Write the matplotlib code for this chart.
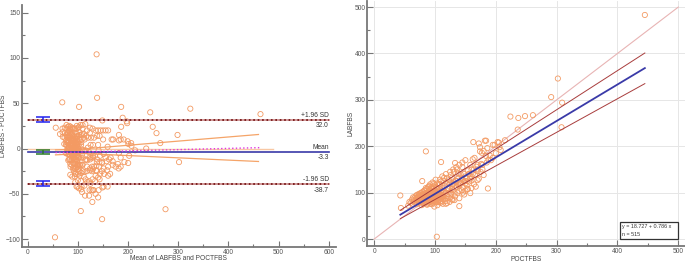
"""Bland-Altman plot and regression of LABFBS against POCTFBS."""

import matplotlib

matplotlib.use("Agg")
import matplotlib.pyplot as plt
import numpy as np
from matplotlib.patches import Rectangle
from matplotlib.ticker import MultipleLocator

plt.rcParams["font.family"] = ["Liberation Sans", "DejaVu Sans"]

poct_fbs = [
    445, 302, 291, 309, 308, 261, 248, 237, 224, 236,
    215, 205, 198, 184, 163, 172, 174, 182, 195, 203,
    85, 187, 103, 43, 44, 140, 158, 110, 79, 180,
    192, 174, 188, 206, 208, 177, 184, 170, 153, 167,
    133,
    56, 58, 60, 62, 63, 64, 65, 66, 67, 68,
    69, 70, 70, 71, 72, 73, 73, 74, 75, 75,
    76, 76, 77, 78, 78, 79, 80, 80, 81, 81,
    82, 82, 83, 83, 84, 84, 85, 85, 86, 86,
    87, 87, 88, 88, 89, 89, 90, 90, 90,
    91, 91, 92, 92, 93, 93, 94, 94, 95, 95,
    96, 96, 97, 97, 98, 98, 99, 99, 100, 100,
    101, 101, 102, 102, 103, 103, 104, 104, 105, 105,
    106, 106, 107, 108, 108, 109, 110, 110, 111, 112,
    113, 113, 114, 115, 115, 116, 117, 118, 119, 120,
    120, 121, 122, 123, 124, 125,
    126, 127, 128, 129, 130, 131, 132, 133, 135, 136,
    137, 138, 140, 141, 142, 144, 145, 146, 148, 150,
    152, 154, 156, 158, 160, 162,
    85, 88, 92, 95, 97, 93, 89, 86, 91, 94,
    96, 99, 84, 82, 87, 90, 93, 95, 98, 101,
    78, 80, 83, 77, 79,
    70, 72, 74, 76, 78, 80, 82, 84, 86, 88,
    90, 92, 94, 96, 98, 100, 102, 104, 106, 108,
    110, 112, 114, 116, 118, 100, 97, 95, 93, 91,
    89, 87, 85, 83, 81, 79, 77, 75, 73, 71,
    105, 107, 109, 111, 113, 103, 101, 99, 97, 95,
    92, 94, 96, 98, 100, 102, 104, 106, 108, 110,
    122, 124, 126, 128, 130, 132, 134, 136, 138, 140,
    142, 144, 146, 148, 150, 152, 154, 156, 160, 164,
    166, 168, 170, 172, 176, 178, 164, 158, 150, 146,
    118, 124, 128, 132, 120, 114, 108, 104, 98, 90,
    130, 135, 140, 145, 150, 155, 160, 165, 170, 175,
    180, 185, 190, 195, 200, 140, 150, 160, 170, 178,
    125, 118, 112, 135, 145, 128, 138, 148, 162, 186,
]
lab_fbs = [
    483, 346, 306, 294, 241, 267, 265, 261, 264, 236,
    213, 208, 203, 212, 209, 206, 198, 212, 203, 209,
    189, 109, 5, 94, 67, 71, 99, 166, 125, 138,
    170, 189, 171, 198, 192, 186, 179, 127, 107, 113,
    164,
    72, 80, 78, 85, 76, 90, 82, 88, 79, 92,
    84, 95, 75, 88, 81, 97, 86, 78, 92, 84,
    99, 88, 80, 94, 73, 86, 102, 90, 82, 96,
    76, 88, 105, 92, 84, 98, 79, 110, 91, 86,
    100, 74, 95, 83, 112, 90, 78, 98, 88,
    104, 84, 93, 118, 80, 99, 89, 108, 75, 95,
    122, 86, 101, 92, 82, 113, 96, 70, 105, 88,
    93, 128, 79, 99, 110, 86, 95, 73, 102, 91,
    118, 84, 97, 107, 80, 92, 124, 100, 88, 110,
    95, 76, 104, 132, 90, 114, 82, 100, 120, 93,
    78, 108, 97, 127, 88, 112,
    138, 96, 118, 84, 105, 145, 122, 92, 113, 150,
    100, 130, 88, 118, 140, 105, 155, 127, 96, 135,
    116, 148, 124, 160, 110, 140,
    95, 88, 97, 90, 97, 104, 100, 80, 91, 96,
    93, 100, 90, 83, 92, 94, 87, 102, 94, 100,
    84, 80, 87, 90, 78,
    88, 92, 95, 82, 100, 96, 104, 80, 108, 76,
    106, 84, 112, 78, 108, 84, 112, 82, 96, 90,
    82, 94, 86, 98, 88, 96, 85, 110, 76, 98,
    84, 96, 88, 94, 90, 92, 86, 90, 80, 84,
    80, 86, 78, 104, 92, 96, 80, 90, 104, 86,
    106, 82, 100, 86, 116, 90, 108, 88, 118, 90,
    110, 120, 100, 132, 118, 98, 126, 112, 142, 104,
    122, 132, 112, 140, 120, 132, 108, 140, 126, 150,
    138, 156, 146, 130, 162, 150, 118, 130, 104, 100,
    76, 80, 86, 84, 132, 126, 128, 120, 120, 114,
    150, 125, 160, 130, 170, 140, 150, 175, 160, 145,
    190, 165, 180, 175, 185, 115, 125, 135, 150, 160,
    145, 140, 135, 155, 165, 108, 118, 124, 172, 196,
]

# Bland-Altman summary as printed on the chart
mean_diff = -3.3
upper_loa = 32.0
lower_loa = -38.7
ci_mean = [-5.5, -1.1]
ci_upper = [29.7, 34.8]
ci_lower = [-41.4, -35.9]

# regression of the differences and its confidence band
diff_reg_x = [55, 464]
diff_reg_y = [-4.5, 1.0]
diff_band_x = [55, 110, 460]
diff_band_hi = [-1.5, -0.5, 15.5]
diff_band_lo = [-7.0, -5.5, -14.3]

# fitted line on the right panel
intercept = 18.727
slope = 0.786
n_obs = 515
fit_x = [43, 445]
fit_band_hi = [62, 401]
fit_band_lo = [44, 335]

poct = np.array(poct_fbs, dtype=float)
lab = np.array(lab_fbs, dtype=float)
avg = (lab + poct) / 2
diff = lab - poct

orange = "#f39a63"
axis_grey = "#777777"
tick_kw = dict(direction="in", labelsize=4.8, labelcolor="#555555",
               color=axis_grey, width=0.8, pad=1.2)
label_kw = dict(fontsize=4.8, color="#444444")

fig = plt.figure(figsize=(6.85, 2.62), dpi=100)
ax1 = fig.add_axes([0.032, 0.057, 0.458, 0.924])
ax2 = fig.add_axes([0.536, 0.061, 0.464, 0.935])

for ax in (ax1, ax2):
    for side in ("top", "right"):
        ax.spines[side].set_visible(False)
    for side in ("left", "bottom"):
        ax.spines[side].set_color(axis_grey)
        ax.spines[side].set_linewidth(1.3)
    ax.tick_params(which="major", length=4, **tick_kw)
    ax.tick_params(which="minor", length=2, **tick_kw)

# --- left: Bland-Altman ---
ax1.scatter(avg, diff, s=14, facecolors="none", edgecolors=orange,
            linewidths=0.6, zorder=3)
x_span = [0, 600]
ax1.plot(x_span, [mean_diff] * 2, color="#3a3aa8", lw=1.2, zorder=4)
for level in (upper_loa, lower_loa):
    ax1.plot(x_span, [level] * 2, color="#c98888", lw=1.2, zorder=4)
    ax1.plot(x_span, [level] * 2, color="#6e0c0c", lw=1.2, ls=":", zorder=4)

ax1.plot([0, 488], [0, 0], color="#f8c8a4", lw=1.0, zorder=2)
ax1.plot(diff_reg_x, diff_reg_y, color="#e034e0", lw=1.0, ls=":", zorder=5)
ax1.plot(diff_band_x, diff_band_hi, color="#f5a468", lw=0.9, zorder=2)
ax1.plot(diff_band_x, diff_band_lo, color="#f5a468", lw=0.9, zorder=2)

for ci, col in ((ci_upper, "#2020ee"), (ci_mean, "#2a7a2a"), (ci_lower, "#2020ee")):
    mid = np.mean(ci)
    ax1.errorbar(30, mid, yerr=[[mid - ci[0]], [ci[1] - mid]],
                 fmt="none", ecolor=col, elinewidth=1.1, capsize=5,
                 capthick=1.1, zorder=6)

line_lbl = dict(ha="right", va="center", fontsize=4.8, color="#333333")
ax1.text(600, upper_loa + 4.7, "+1.96 SD", **line_lbl)
ax1.text(600, upper_loa - 7, f"{upper_loa:.1f}", **line_lbl)
ax1.text(600, mean_diff + 4.3, "Mean", **line_lbl)
ax1.text(600, mean_diff - 7, f"{mean_diff:.1f}", **line_lbl)
ax1.text(600, lower_loa + 4.2, "-1.96 SD", **line_lbl)
ax1.text(600, lower_loa - 7.5, f"{lower_loa:.1f}", **line_lbl)

ax1.set_xlim(-12, 614)
ax1.set_ylim(-108.8, 158.5)
ax1.xaxis.set_major_locator(MultipleLocator(100))
ax1.xaxis.set_minor_locator(MultipleLocator(50))
ax1.yaxis.set_major_locator(MultipleLocator(50))
ax1.yaxis.set_minor_locator(MultipleLocator(25))
ax1.set_xlabel("Mean of LABFBS and POCTFBS", **label_kw)
ax1.set_ylabel("LABFBS - POCTFBS", **label_kw)
ax1.xaxis.set_label_coords(0.5, -0.033)
ax1.yaxis.set_label_coords(-0.046, 0.5)

# --- right: scatter with fit ---
ax2.grid(True, which="major", color="#e6e6e6", lw=0.7, zorder=0)
ax2.plot([0, 500], [0, 500], color="#e8b4b4", lw=0.8, zorder=2)
ax2.scatter(poct, lab, s=14, facecolors="none", edgecolors=orange,
            linewidths=0.6, zorder=3)
fx = np.array(fit_x, dtype=float)
ax2.plot(fx, intercept + slope * fx, color="#3a3aa8", lw=1.3, zorder=5)
ax2.plot(fit_x, fit_band_hi, color="#a83c3c", lw=0.7, zorder=4)
ax2.plot(fit_x, fit_band_lo, color="#a83c3c", lw=0.7, zorder=4)

ax2.add_patch(Rectangle((404, 0), 96, 36, facecolor="white",
                        edgecolor="#333333", lw=0.9, zorder=6))
ax2.text(407, 32, f"y = {intercept:.3f} + {slope:.3f} x\nn = {n_obs}",
         ha="left", va="top", fontsize=3.9, color="#333333",
         linespacing=1.6, zorder=7)

ax2.set_xlim(-11.5, 511)
ax2.set_ylim(-15, 513)
ax2.xaxis.set_major_locator(MultipleLocator(100))
ax2.xaxis.set_minor_locator(MultipleLocator(50))
ax2.yaxis.set_major_locator(MultipleLocator(100))
ax2.yaxis.set_minor_locator(MultipleLocator(50))
ax2.set_axisbelow(True)
ax2.set_xlabel("POCTFBS", **label_kw)
ax2.set_ylabel("LABFBS", **label_kw)
ax2.xaxis.set_label_coords(0.5, -0.039)
ax2.yaxis.set_label_coords(-0.041, 0.5)

fig.savefig("out.png", dpi=100)
